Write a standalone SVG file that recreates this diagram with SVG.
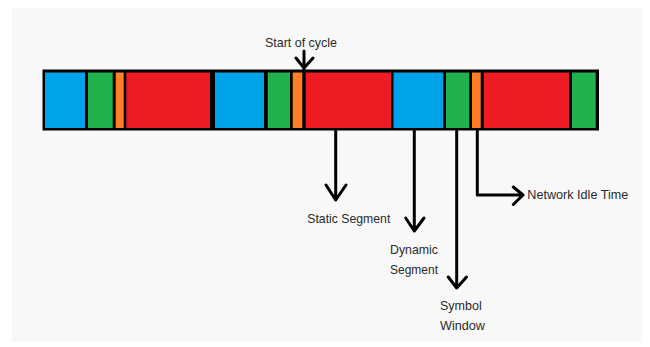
<svg xmlns="http://www.w3.org/2000/svg" width="650" height="347" viewBox="0 0 650 347">
<style>
.t{font-family:"Liberation Sans",Arial,sans-serif;font-size:13.5px;fill:#2a2a2a}
.b{fill:#00A2E8}.g{fill:#22B14C}.o{fill:#FF7F27}.r{fill:#ED1C24}
.ln{fill:none;stroke:#000;stroke-width:3;stroke-linecap:round;stroke-linejoin:round}
</style>
<rect x="0" y="0" width="650" height="347" fill="#fff"/>
<rect x="12" y="8" width="630" height="334" fill="#f8f8f8"/>
<g id="bar">
<rect x="42.5" y="69.5" width="556.5" height="61" fill="#000"/>
<rect class="b" x="45" y="72.5" width="40" height="55.5"/>
<rect class="g" x="88" y="72.5" width="24.7" height="55.5"/>
<rect class="o" x="115.7" y="72.5" width="8" height="55.5"/>
<rect class="r" x="126.3" y="72.5" width="83.7" height="55.5"/>
<rect class="b" x="215" y="72.5" width="49" height="55.5"/>
<rect class="g" x="267.7" y="72.5" width="22.3" height="55.5"/>
<rect class="o" x="292.7" y="72.5" width="9.6" height="55.5"/>
<rect class="r" x="305.7" y="72.5" width="85.3" height="55.5"/>
<rect class="b" x="393.5" y="72.5" width="49.8" height="55.5"/>
<rect class="g" x="446" y="72.5" width="23.3" height="55.5"/>
<rect class="o" x="472" y="72.5" width="8.7" height="55.5"/>
<rect class="r" x="483.7" y="72.5" width="85.3" height="55.5"/>
<rect class="g" x="572" y="72.5" width="23.7" height="55.5"/>
</g>
<g id="connectors">
<path class="ln" d="M304 51V70M296 58L304 68L313 58"/>
<path class="ln" d="M335.7 131V200M326 185L335.7 200L346 185"/>
<path class="ln" d="M414.3 131V231M405.7 218L414.3 231L424 218"/>
<path class="ln" d="M456.7 131V288M448.3 277L456.7 288L466.5 277"/>
<path class="ln" d="M477.3 131V195H523M513.3 187L523 195L513.3 204.5"/>
</g>
<g id="start"><text class="t" x="265" y="47" textLength="72" lengthAdjust="spacingAndGlyphs">Start of cycle</text></g>
<g id="static"><text class="t" x="307.3" y="223" textLength="83" lengthAdjust="spacingAndGlyphs">Static Segment</text></g>
<g id="dynamic"><text class="t" x="390" y="253.5" textLength="48" lengthAdjust="spacingAndGlyphs">Dynamic</text><text class="t" x="390" y="273.5" textLength="48" lengthAdjust="spacingAndGlyphs">Segment</text></g>
<g id="symbol"><text class="t" x="440" y="310" textLength="41.7" lengthAdjust="spacingAndGlyphs">Symbol</text><text class="t" x="440" y="330" textLength="45" lengthAdjust="spacingAndGlyphs">Window</text></g>
<g id="idle"><text class="t" x="527.3" y="198.5" textLength="101" lengthAdjust="spacingAndGlyphs">Network Idle Time</text></g>
</svg>
